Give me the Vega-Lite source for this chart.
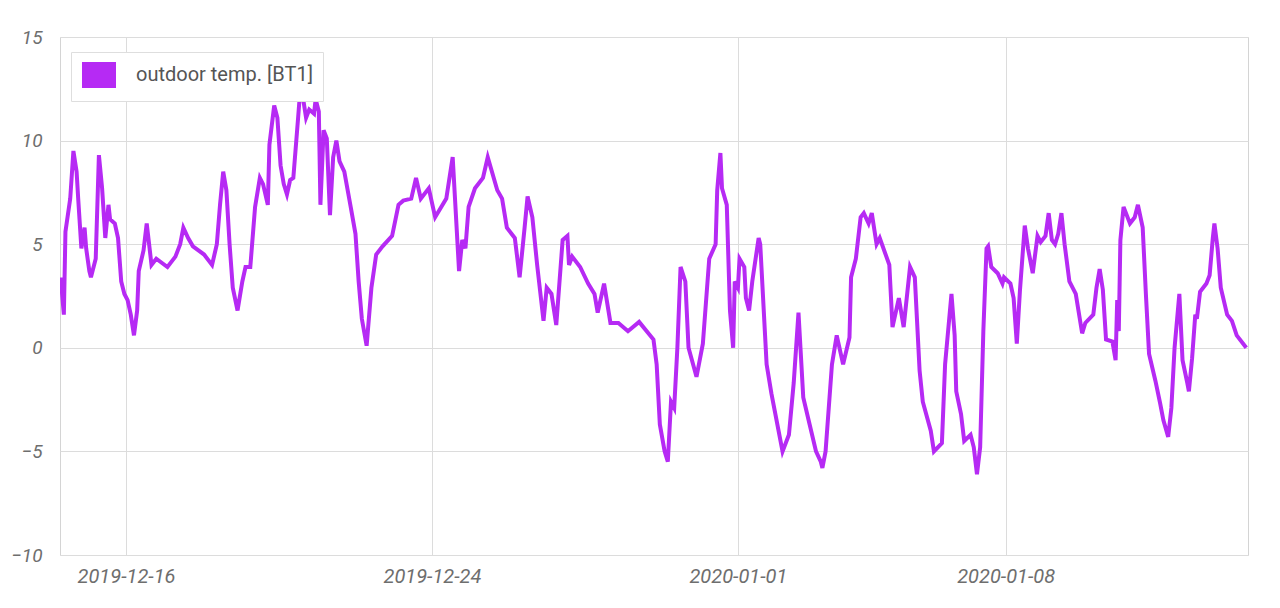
{
  "$schema": "https://vega.github.io/schema/vega-lite/v6.json",
  "autosize": {"type": "none"},
  "width": 1188,
  "height": 518,
  "padding": {"left": 60, "top": 37, "right": 32, "bottom": 53},
  "background": "white",
  "config": {
    "view": {"stroke": "#d4d4d4", "strokeWidth": 1},
    "font": "Roboto"
  },
  "data": {"values": [
    {"t":"2019-12-14T07:00","v":3.4},{"t":"2019-12-14T09:00","v":1.6},{"t":"2019-12-14T10:00","v":5.6},{"t":"2019-12-14T13:00","v":7.2},
    {"t":"2019-12-14T15:00","v":9.5},{"t":"2019-12-14T17:00","v":8.5},{"t":"2019-12-14T18:00","v":7.2},{"t":"2019-12-14T20:00","v":4.8},
    {"t":"2019-12-14T22:00","v":5.8},{"t":"2019-12-14T23:00","v":4.8},{"t":"2019-12-15T01:00","v":3.7},{"t":"2019-12-15T02:00","v":3.4},
    {"t":"2019-12-15T05:00","v":4.3},{"t":"2019-12-15T07:00","v":9.3},{"t":"2019-12-15T09:00","v":7.7},{"t":"2019-12-15T11:00","v":5.3},
    {"t":"2019-12-15T13:00","v":6.9},{"t":"2019-12-15T14:00","v":6.2},{"t":"2019-12-15T17:00","v":6.0},{"t":"2019-12-15T19:00","v":5.3},
    {"t":"2019-12-15T21:00","v":3.2},{"t":"2019-12-15T23:00","v":2.6},{"t":"2019-12-16T01:00","v":2.3},{"t":"2019-12-16T03:00","v":1.6},
    {"t":"2019-12-16T05:00","v":0.6},{"t":"2019-12-16T07:00","v":1.8},{"t":"2019-12-16T08:00","v":3.7},{"t":"2019-12-16T11:00","v":4.7},
    {"t":"2019-12-16T13:00","v":6.0},{"t":"2019-12-16T16:00","v":4.0},{"t":"2019-12-16T19:00","v":4.3},{"t":"2019-12-17T02:00","v":3.9},
    {"t":"2019-12-17T07:00","v":4.4},{"t":"2019-12-17T10:00","v":5.0},{"t":"2019-12-17T12:00","v":5.8},{"t":"2019-12-17T15:00","v":5.3},
    {"t":"2019-12-17T18:00","v":4.9},{"t":"2019-12-18T01:00","v":4.5},{"t":"2019-12-18T06:00","v":4.0},{"t":"2019-12-18T09:00","v":5.0},
    {"t":"2019-12-18T11:00","v":6.9},{"t":"2019-12-18T13:00","v":8.5},{"t":"2019-12-18T15:00","v":7.6},{"t":"2019-12-18T17:00","v":5.0},
    {"t":"2019-12-18T19:00","v":2.9},{"t":"2019-12-18T22:00","v":1.8},{"t":"2019-12-19T01:00","v":3.2},{"t":"2019-12-19T03:00","v":3.9},
    {"t":"2019-12-19T06:00","v":3.9},{"t":"2019-12-19T09:00","v":6.8},{"t":"2019-12-19T12:00","v":8.2},{"t":"2019-12-19T14:00","v":7.9},
    {"t":"2019-12-19T17:00","v":6.9},{"t":"2019-12-19T18:00","v":9.8},{"t":"2019-12-19T21:00","v":11.7},{"t":"2019-12-19T23:00","v":11.1},
    {"t":"2019-12-20T01:00","v":8.8},{"t":"2019-12-20T03:00","v":7.9},{"t":"2019-12-20T05:00","v":7.4},{"t":"2019-12-20T07:00","v":8.1},
    {"t":"2019-12-20T09:00","v":8.2},{"t":"2019-12-20T12:00","v":11.1},{"t":"2019-12-20T13:00","v":12.1},{"t":"2019-12-20T15:00","v":12.1},
    {"t":"2019-12-20T17:00","v":11.1},{"t":"2019-12-20T19:00","v":11.5},{"t":"2019-12-20T22:00","v":11.3},{"t":"2019-12-20T23:00","v":12.0},
    {"t":"2019-12-21T01:00","v":11.4},{"t":"2019-12-21T02:00","v":6.9},{"t":"2019-12-21T04:00","v":10.5},{"t":"2019-12-21T06:00","v":10.1},
    {"t":"2019-12-21T08:00","v":6.4},{"t":"2019-12-21T10:00","v":9.2},{"t":"2019-12-21T12:00","v":10.0},{"t":"2019-12-21T14:00","v":9.0},
    {"t":"2019-12-21T17:00","v":8.5},{"t":"2019-12-21T21:00","v":6.8},{"t":"2019-12-22T00:00","v":5.5},{"t":"2019-12-22T02:00","v":3.2},
    {"t":"2019-12-22T04:00","v":1.4},{"t":"2019-12-22T07:00","v":0.1},{"t":"2019-12-22T10:00","v":2.9},{"t":"2019-12-22T13:00","v":4.5},
    {"t":"2019-12-22T17:00","v":4.9},{"t":"2019-12-22T23:00","v":5.4},{"t":"2019-12-23T03:00","v":6.9},{"t":"2019-12-23T06:00","v":7.1},
    {"t":"2019-12-23T11:00","v":7.2},{"t":"2019-12-23T14:00","v":8.2},{"t":"2019-12-23T17:00","v":7.2},{"t":"2019-12-23T22:00","v":7.7},
    {"t":"2019-12-24T02:00","v":6.3},{"t":"2019-12-24T09:00","v":7.2},{"t":"2019-12-24T13:00","v":9.2},{"t":"2019-12-24T17:00","v":3.7},
    {"t":"2019-12-24T19:00","v":5.2},{"t":"2019-12-24T21:00","v":4.8},{"t":"2019-12-24T23:00","v":6.8},{"t":"2019-12-25T03:00","v":7.7},
    {"t":"2019-12-25T08:00","v":8.2},{"t":"2019-12-25T11:00","v":9.2},{"t":"2019-12-25T17:00","v":7.6},{"t":"2019-12-25T20:00","v":7.2},
    {"t":"2019-12-25T23:00","v":5.8},{"t":"2019-12-26T04:00","v":5.3},{"t":"2019-12-26T07:00","v":3.4},{"t":"2019-12-26T10:00","v":5.7},
    {"t":"2019-12-26T12:00","v":7.3},{"t":"2019-12-26T15:00","v":6.3},{"t":"2019-12-26T18:00","v":4.0},{"t":"2019-12-26T22:00","v":1.3},
    {"t":"2019-12-27T00:00","v":2.9},{"t":"2019-12-27T03:00","v":2.6},{"t":"2019-12-27T06:00","v":1.1},{"t":"2019-12-27T10:00","v":5.2},
    {"t":"2019-12-27T13:00","v":5.4},{"t":"2019-12-27T14:00","v":4.0},{"t":"2019-12-27T16:00","v":4.4},{"t":"2019-12-27T21:00","v":3.9},
    {"t":"2019-12-28T02:00","v":3.1},{"t":"2019-12-28T06:00","v":2.6},{"t":"2019-12-28T08:00","v":1.7},{"t":"2019-12-28T12:00","v":3.1},
    {"t":"2019-12-28T16:00","v":1.2},{"t":"2019-12-28T21:00","v":1.2},{"t":"2019-12-29T03:00","v":0.8},{"t":"2019-12-29T10:00","v":1.25},
    {"t":"2019-12-29T19:00","v":0.4},{"t":"2019-12-29T21:00","v":-0.8},{"t":"2019-12-29T23:00","v":-3.7},{"t":"2019-12-30T02:00","v":-5.0},
    {"t":"2019-12-30T04:00","v":-5.5},{"t":"2019-12-30T06:00","v":-2.6},{"t":"2019-12-30T08:00","v":-2.9},{"t":"2019-12-30T10:00","v":0.0},
    {"t":"2019-12-30T12:00","v":3.9},{"t":"2019-12-30T15:00","v":3.2},{"t":"2019-12-30T17:00","v":0.0},{"t":"2019-12-30T22:00","v":-1.4},
    {"t":"2019-12-31T02:00","v":0.2},{"t":"2019-12-31T06:00","v":4.3},{"t":"2019-12-31T10:00","v":5.0},{"t":"2019-12-31T11:00","v":7.6},
    {"t":"2019-12-31T13:00","v":9.4},{"t":"2019-12-31T14:00","v":7.7},{"t":"2019-12-31T17:00","v":6.9},{"t":"2019-12-31T19:00","v":1.8},
    {"t":"2019-12-31T21:00","v":0.0},{"t":"2019-12-31T22:00","v":3.2},{"t":"2020-01-01T00:00","v":2.9},{"t":"2020-01-01T01:00","v":4.3},
    {"t":"2020-01-01T04:00","v":3.9},{"t":"2020-01-01T05:00","v":2.4},{"t":"2020-01-01T07:00","v":1.8},{"t":"2020-01-01T09:00","v":3.2},
    {"t":"2020-01-01T13:00","v":5.3},{"t":"2020-01-01T14:00","v":5.0},{"t":"2020-01-01T18:00","v":-0.8},{"t":"2020-01-01T21:00","v":-2.2},
    {"t":"2020-01-02T04:00","v":-5.0},{"t":"2020-01-02T08:00","v":-4.2},{"t":"2020-01-02T11:00","v":-1.7},{"t":"2020-01-02T14:00","v":1.7},
    {"t":"2020-01-02T17:00","v":-2.4},{"t":"2020-01-02T21:00","v":-3.7},{"t":"2020-01-03T01:00","v":-5.0},{"t":"2020-01-03T04:00","v":-5.5},
    {"t":"2020-01-03T05:00","v":-5.8},{"t":"2020-01-03T07:00","v":-5.0},{"t":"2020-01-03T11:00","v":-0.8},{"t":"2020-01-03T14:00","v":0.6},
    {"t":"2020-01-03T16:00","v":-0.1},{"t":"2020-01-03T18:00","v":-0.8},{"t":"2020-01-03T22:00","v":0.5},{"t":"2020-01-03T23:00","v":3.4},
    {"t":"2020-01-04T02:00","v":4.3},{"t":"2020-01-04T05:00","v":6.3},{"t":"2020-01-04T07:00","v":6.5},{"t":"2020-01-04T10:00","v":6.0},
    {"t":"2020-01-04T12:00","v":6.5},{"t":"2020-01-04T15:00","v":5.0},{"t":"2020-01-04T17:00","v":5.3},{"t":"2020-01-04T23:00","v":4.0},
    {"t":"2020-01-05T01:00","v":1.0},{"t":"2020-01-05T05:00","v":2.4},{"t":"2020-01-05T08:00","v":1.0},{"t":"2020-01-05T12:00","v":3.9},
    {"t":"2020-01-05T15:00","v":3.4},{"t":"2020-01-05T18:00","v":-1.1},{"t":"2020-01-05T20:00","v":-2.6},{"t":"2020-01-06T01:00","v":-4.0},
    {"t":"2020-01-06T03:00","v":-5.0},{"t":"2020-01-06T08:00","v":-4.6},{"t":"2020-01-06T10:00","v":-0.8},{"t":"2020-01-06T14:00","v":2.6},
    {"t":"2020-01-06T16:00","v":0.6},{"t":"2020-01-06T17:00","v":-2.1},{"t":"2020-01-06T20:00","v":-3.2},{"t":"2020-01-06T22:00","v":-4.5},
    {"t":"2020-01-07T02:00","v":-4.2},{"t":"2020-01-07T04:00","v":-4.8},{"t":"2020-01-07T06:00","v":-6.1},{"t":"2020-01-07T08:00","v":-4.8},
    {"t":"2020-01-07T10:00","v":0.8},{"t":"2020-01-07T12:00","v":4.8},{"t":"2020-01-07T13:00","v":4.9},{"t":"2020-01-07T15:00","v":3.9},
    {"t":"2020-01-07T19:00","v":3.6},{"t":"2020-01-07T22:00","v":3.1},{"t":"2020-01-07T23:00","v":3.4},{"t":"2020-01-08T03:00","v":3.1},
    {"t":"2020-01-08T05:00","v":2.4},{"t":"2020-01-08T07:00","v":0.2},{"t":"2020-01-08T09:00","v":2.8},{"t":"2020-01-08T12:00","v":5.9},
    {"t":"2020-01-08T14:00","v":4.8},{"t":"2020-01-08T17:00","v":3.6},{"t":"2020-01-08T20:00","v":5.4},{"t":"2020-01-08T22:00","v":5.1},
    {"t":"2020-01-09T01:00","v":5.4},{"t":"2020-01-09T03:00","v":6.5},{"t":"2020-01-09T05:00","v":5.2},{"t":"2020-01-09T07:00","v":5.0},
    {"t":"2020-01-09T09:00","v":5.5},{"t":"2020-01-09T11:00","v":6.5},{"t":"2020-01-09T13:00","v":5.0},{"t":"2020-01-09T16:00","v":3.2},
    {"t":"2020-01-09T20:00","v":2.6},{"t":"2020-01-10T00:00","v":0.7},{"t":"2020-01-10T02:00","v":1.2},{"t":"2020-01-10T07:00","v":1.6},
    {"t":"2020-01-10T09:00","v":2.9},{"t":"2020-01-10T11:00","v":3.8},{"t":"2020-01-10T13:00","v":2.8},{"t":"2020-01-10T15:00","v":0.4},
    {"t":"2020-01-10T19:00","v":0.3},{"t":"2020-01-10T21:00","v":-0.6},{"t":"2020-01-10T22:00","v":2.3},{"t":"2020-01-10T23:00","v":0.8},
    {"t":"2020-01-11T00:00","v":5.2},{"t":"2020-01-11T02:00","v":6.8},{"t":"2020-01-11T06:00","v":6.0},{"t":"2020-01-11T09:00","v":6.3},
    {"t":"2020-01-11T11:00","v":6.9},{"t":"2020-01-11T14:00","v":5.8},{"t":"2020-01-11T16:00","v":2.6},{"t":"2020-01-11T18:00","v":-0.3},
    {"t":"2020-01-11T22:00","v":-1.6},{"t":"2020-01-12T01:00","v":-2.7},{"t":"2020-01-12T03:00","v":-3.5},{"t":"2020-01-12T06:00","v":-4.3},
    {"t":"2020-01-12T08:00","v":-2.9},{"t":"2020-01-12T10:00","v":0.0},{"t":"2020-01-12T13:00","v":2.6},{"t":"2020-01-12T15:00","v":-0.6},
    {"t":"2020-01-12T18:00","v":-1.7},{"t":"2020-01-12T19:00","v":-2.1},{"t":"2020-01-12T21:00","v":-0.5},{"t":"2020-01-12T23:00","v":1.6},
    {"t":"2020-01-13T00:00","v":1.4},{"t":"2020-01-13T02:00","v":2.7},{"t":"2020-01-13T06:00","v":3.1},{"t":"2020-01-13T08:00","v":3.5},
    {"t":"2020-01-13T10:00","v":5.3},{"t":"2020-01-13T11:00","v":6.0},{"t":"2020-01-13T13:00","v":4.8},{"t":"2020-01-13T15:00","v":2.9},
    {"t":"2020-01-13T19:00","v":1.6},{"t":"2020-01-13T22:00","v":1.3},{"t":"2020-01-14T01:00","v":0.6},{"t":"2020-01-14T07:00","v":0.0}
  ]},
  "mark": {"type": "line", "strokeWidth": 4, "interpolate": "linear", "clip": true},
  "encoding": {
    "x": {
      "field": "t", "type": "temporal", "title": null,
      "scale": {"domain": [{"year":2019,"month":12,"date":14,"hours":6,"minutes":35}, {"year":2020,"month":1,"date":14,"hours":8,"minutes":5}]},
      "axis": {
        "values": [{"year":2019,"month":12,"date":16}, {"year":2019,"month":12,"date":24}, {"year":2020,"month":1,"date":1}, {"year":2020,"month":1,"date":8}],
        "format": "%Y-%m-%d",
        "domain": false, "ticks": false,
        "gridColor": "#dcdcdc", "gridWidth": 1,
        "labelFont": "Roboto", "labelFontStyle": "italic", "labelFontSize": 20,
        "labelColor": "#6e6e6e", "labelPadding": 11, "labelAlign": "center"
      }
    },
    "y": {
      "field": "v", "type": "quantitative", "title": null,
      "scale": {"domain": [-10, 15], "nice": false, "zero": false},
      "axis": {
        "values": [-10, -5, 0, 5, 10, 15],
        "domain": false, "ticks": false,
        "gridColor": "#dcdcdc", "gridWidth": 1,
        "labelFont": "Roboto", "labelFontStyle": "italic", "labelFontSize": 19,
        "labelColor": "#6e6e6e", "labelPadding": 18
      }
    },
    "color": {
      "datum": "outdoor temp. [BT1]",
      "scale": {"range": ["#b62af4"]},
      "legend": {
        "title": null,
        "orient": "none", "legendX": 11, "legendY": 15,
        "fillColor": "white", "strokeColor": "#dedede", "padding": 10,
        "symbolType": "M-0.917,-1H1.75V1H-0.917Z", "symbolSize": 576,
        "symbolStrokeWidth": 2, "symbolOpacity": 1,
        "labelFont": "Roboto", "labelFontSize": 20, "labelColor": "#555555",
        "labelOffset": 29, "labelLimit": 400,
        "encode": {"symbols": {"update": {"fill": {"value": "#b62af4"}, "stroke": {"value": "#d7b0ef"}, "strokeWidth": {"value": 2}}}}
      }
    }
  }
}
